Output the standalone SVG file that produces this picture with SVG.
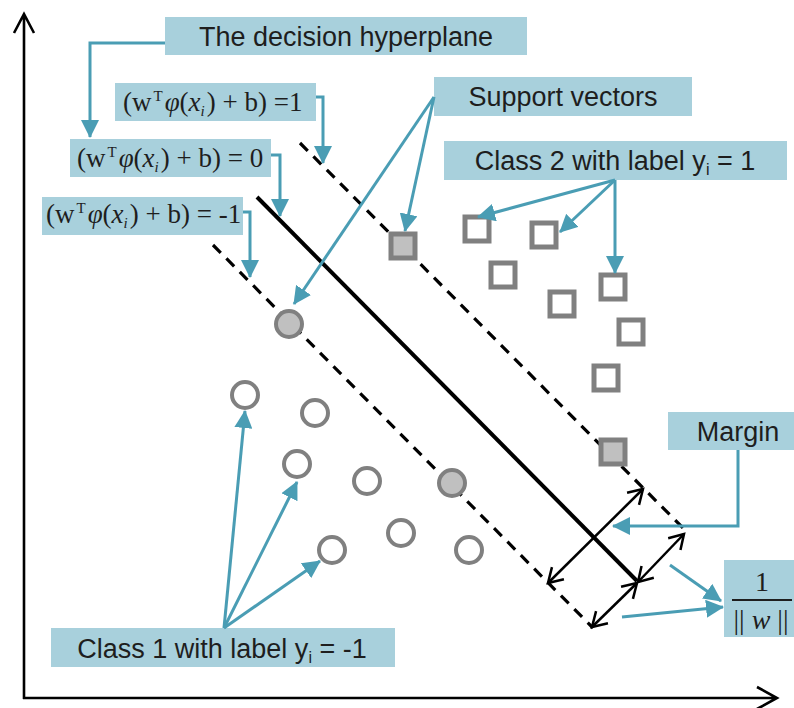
<svg xmlns="http://www.w3.org/2000/svg" width="794" height="708" viewBox="0 0 794 708">
  <style>
    .box { fill: #a8d0dc; }
    .lbl { font-family: "Liberation Sans", Arial, sans-serif; font-size: 27px; fill: #1e1e1e; text-anchor: middle; }
    .eq { font-family: "Liberation Serif", "Times New Roman", serif; font-size: 27px; fill: #1e1e1e; }
    .frac { font-size: 28px; }
    .it { font-style: italic; }
    .sup { font-size: 15px; }
    .sub { font-size: 15px; font-style: italic; }
    .lsub { font-size: 16px; }
    .conn { fill: none; stroke: #4a9db4; stroke-width: 3; marker-end: url(#ah); }
    .axis { fill: none; stroke: #000; stroke-width: 2.6; }
    .dash { fill: none; stroke: #000; stroke-width: 3.2; stroke-dasharray: 11 8; }
    .solid { fill: none; stroke: #000; stroke-width: 4; }
    .dbl { fill: none; stroke: #000; stroke-width: 2.5; marker-start: url(#oa); marker-end: url(#oa); }
    .c1 { fill: #fff; stroke: #808080; stroke-width: 4; }
    .c2 { fill: #fff; stroke: #808080; stroke-width: 5; }
    .sv { fill: #c0c0c0; }
  </style>
  <defs>
    <marker id="ah" markerUnits="userSpaceOnUse" viewBox="0 0 18 18" markerWidth="18" markerHeight="18" refX="17" refY="9" orient="auto">
      <path d="M0,0 L18,9 L0,18 z" fill="#4a9db4"/>
    </marker>
    <marker id="oa" markerUnits="userSpaceOnUse" viewBox="-16 -10 20 20" markerWidth="20" markerHeight="20" refX="0" refY="0" orient="auto-start-reverse" overflow="visible">
      <path d="M-14,-8.5 L0,0 L-14,8.5" fill="none" stroke="#000" stroke-width="2.5"/>
    </marker>
  </defs>

  <!-- axes -->
  <g id="axes">
    <path class="axis" d="M24,699 V14 M14,33 L24,14 L34,33"/>
    <path class="axis" d="M23,698 H777 M757,687 L777,698 L757,709"/>
  </g>

  <!-- hyperplane and margin boundaries -->
  <g id="hyperplane">
    <path class="solid" d="M257,197 L637,581"/>
  </g>
  <g id="margin-upper">
    <path class="dash" d="M300,143 L683,528"/>
  </g>
  <g id="margin-lower">
    <path class="dash" d="M213,245 L593,628"/>
  </g>

  <!-- margin width arrows -->
  <g id="margin-arrows">
    <path class="dbl" d="M548,583 L643,489"/>
    <path class="dbl" d="M638,582 L684,534"/>
    <path class="dbl" d="M592,627 L637,583"/>
  </g>

  <!-- class 1 samples -->
  <g id="class1">
    <circle class="c1 sv" cx="289" cy="324" r="13"/>
    <circle class="c1" cx="245" cy="395" r="13"/>
    <circle class="c1" cx="315" cy="413" r="13"/>
    <circle class="c1" cx="297" cy="464" r="13"/>
    <circle class="c1" cx="367" cy="481" r="13"/>
    <circle class="c1 sv" cx="452" cy="483" r="13"/>
    <circle class="c1" cx="401" cy="533" r="13"/>
    <circle class="c1" cx="332" cy="550" r="13"/>
    <circle class="c1" cx="469" cy="550" r="13"/>
  </g>

  <!-- class 2 samples -->
  <g id="class2">
    <rect class="c2 sv" x="391" y="234" width="24" height="24"/>
    <rect class="c2" x="465" y="217" width="24" height="24"/>
    <rect class="c2" x="532" y="223" width="24" height="24"/>
    <rect class="c2" x="491" y="263" width="24" height="24"/>
    <rect class="c2" x="601" y="275" width="24" height="24"/>
    <rect class="c2" x="550" y="292" width="24" height="24"/>
    <rect class="c2" x="619" y="320" width="24" height="24"/>
    <rect class="c2" x="594" y="366" width="24" height="24"/>
    <rect class="c2 sv" x="601" y="440" width="24" height="24"/>
  </g>

  <!-- labels -->
  <g id="label-hyperplane">
    <rect class="box" x="165" y="17" width="362" height="38"/>
    <text class="lbl" x="346" y="46">The decision hyperplane</text>
  </g>
  <g id="label-eq-pos">
    <rect class="box" x="115" y="83" width="201" height="38"/>
    <text class="eq" x="123" y="111">(w<tspan class="sup" dx="2" dy="-10">T</tspan><tspan class="it" dx="2" dy="10">φ</tspan>(<tspan class="it">x</tspan><tspan class="sub" dy="5">i</tspan><tspan dx="2" dy="-5">) + b) =1</tspan></text>
  </g>
  <g id="label-eq-zero">
    <rect class="box" x="70" y="139" width="201" height="38"/>
    <text class="eq" x="77" y="167">(w<tspan class="sup" dx="2" dy="-10">T</tspan><tspan class="it" dx="2" dy="10">φ</tspan>(<tspan class="it">x</tspan><tspan class="sub" dy="5">i</tspan><tspan dx="2" dy="-5">) + b) = 0</tspan></text>
  </g>
  <g id="label-eq-neg">
    <rect class="box" x="42" y="197" width="201" height="38"/>
    <text class="eq" x="46" y="223">(w<tspan class="sup" dx="2" dy="-10">T</tspan><tspan class="it" dx="2" dy="10">φ</tspan>(<tspan class="it">x</tspan><tspan class="sub" dy="5">i</tspan><tspan dx="2" dy="-5">) + b) = -1</tspan></text>
  </g>
  <g id="label-support">
    <rect class="box" x="434" y="77" width="258" height="39"/>
    <text class="lbl" x="563" y="106">Support vectors</text>
  </g>
  <g id="label-class2">
    <rect class="box" x="444" y="141" width="343" height="39"/>
    <text class="lbl" x="615" y="170">Class 2 with label y<tspan class="lsub" dy="5">i</tspan><tspan dy="-5"> = 1</tspan></text>
  </g>
  <g id="label-margin">
    <rect class="box" x="668" y="412" width="126" height="38"/>
    <text class="lbl" x="738" y="441">Margin</text>
  </g>
  <g id="label-fraction">
    <rect class="box" x="724" y="560" width="70" height="77"/>
    <text class="eq frac" x="762" y="591" text-anchor="middle">1</text>
    <line x1="732" y1="600" x2="792" y2="600" stroke="#1e1e1e" stroke-width="1.8"/>
    <text class="eq frac" x="761" y="629" text-anchor="middle">|| <tspan class="it">w</tspan> ||</text>
  </g>
  <g id="label-class1">
    <rect class="box" x="51" y="628" width="344" height="39"/>
    <text class="lbl" x="222" y="658">Class 1 with label y<tspan class="lsub" dy="5">i</tspan><tspan dy="-5"> = -1</tspan></text>
  </g>

  <!-- connectors -->
  <g id="connectors">
    <path class="conn" d="M165,43 H90 V137"/>
    <path class="conn" d="M316,97 H323 V163"/>
    <path class="conn" d="M271,155 H280 V216"/>
    <path class="conn" d="M243,212 H250 V277"/>
    <path class="conn" d="M434,97 L405,231"/>
    <path class="conn" d="M434,97 L294,304"/>
    <path class="conn" d="M615,180 L478,217"/>
    <path class="conn" d="M615,180 L560,232"/>
    <path class="conn" d="M615,180 V273"/>
    <path class="conn" d="M738,450 V526 H613"/>
    <path class="conn" d="M670,565 L721,601"/>
    <path class="conn" d="M622,617 L723,607"/>
    <path class="conn" d="M224,628 L245,411"/>
    <path class="conn" d="M224,628 L297,482"/>
    <path class="conn" d="M224,628 L320,561"/>
  </g>
</svg>
